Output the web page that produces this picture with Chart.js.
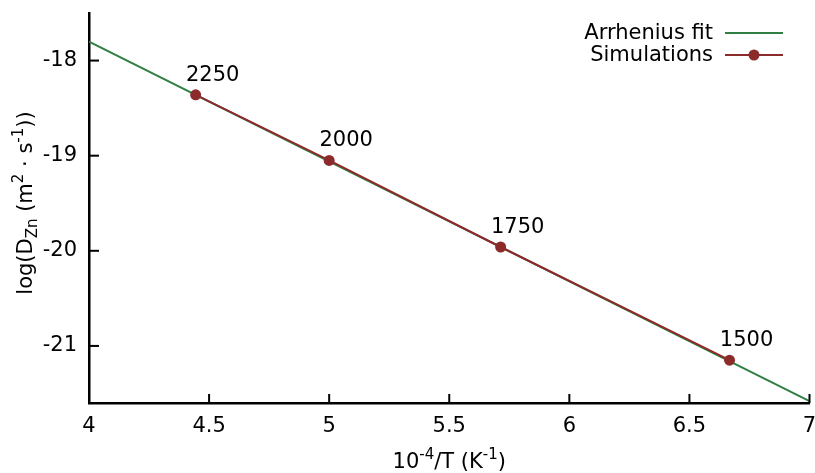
<!DOCTYPE html>
<html>
<head>
<meta charset="utf-8">
<script src="https://cdn.jsdelivr.net/npm/chart.js@4/dist/chart.umd.min.js"></script>
<style>
  html, body { margin: 0; padding: 0; background: #fff; }
  #wrap { width: 815px; height: 473px; }
</style>
</head>
<body>
<div id="wrap"><canvas id="myChart" width="815" height="473"></canvas></div>
<script>
// simulated temperatures (K) and their 10^4/T positions
const temperatures = ['2250', '2000', '1750', '1500'];
const invTemp = [4.444, 5.0, 5.714, 6.667];
const logDiff = [-18.36, -19.05, -19.96, -21.15];

// Arrhenius fit, end points across the axis range
const fitX = [4, 7];
const fitY = [-17.80, -21.58];

const xTickValues = [4, 4.5, 5, 5.5, 6, 6.5, 7];
const yTickValues = [-21, -20, -19, -18];

const FONT = 'DejaVu Sans';
const SIZE = 21;
const SMALL = 15;
const GREEN = '#2f8042';
const BROWN = '#8c2b2b';

// draws a run of text pieces with super/subscripts, starting at x
function drawRuns(ctx, runs, x, y) {
    runs.forEach(r => {
        const size = r.sup || r.sub ? SMALL : SIZE;
        ctx.font = size + 'px "' + FONT + '"';
        const dy = r.sup ? -9 : (r.sub ? 5 : 0);
        ctx.fillText(r.t, x, y + dy);
        x += ctx.measureText(r.t).width;
    });
}
function runsWidth(ctx, runs) {
    let w = 0;
    runs.forEach(r => {
        ctx.font = (r.sup || r.sub ? SMALL : SIZE) + 'px "' + FONT + '"';
        w += ctx.measureText(r.t).width;
    });
    return w;
}

const xTitle = [{ t: '10' }, { t: '-4', sup: true }, { t: '/T (K' }, { t: '-1', sup: true }, { t: ')' }];
const yTitle = [{ t: 'log(D' }, { t: 'Zn', sub: true }, { t: ' (m' }, { t: '2', sup: true },
                { t: ' · s' }, { t: '-1', sup: true }, { t: '))' }];

const decorations = {
    id: 'decorations',
    afterDraw(chart) {
        const ctx = chart.ctx;
        const area = chart.chartArea;
        const xs = chart.scales.x, ys = chart.scales.y;
        ctx.save();

        // inward tick marks
        ctx.strokeStyle = '#000';
        ctx.lineWidth = 2;
        xTickValues.forEach(v => {
            const px = xs.getPixelForValue(v);
            ctx.beginPath();
            ctx.moveTo(px, area.bottom);
            ctx.lineTo(px, area.bottom - 9);
            ctx.stroke();
        });
        yTickValues.forEach(v => {
            const py = ys.getPixelForValue(v);
            ctx.beginPath();
            ctx.moveTo(area.left, py);
            ctx.lineTo(area.left + 10, py);
            ctx.stroke();
        });

        // temperature labels above each simulation point
        ctx.fillStyle = '#000';
        ctx.font = SIZE + 'px "' + FONT + '"';
        ctx.textAlign = 'center';
        ctx.textBaseline = 'alphabetic';
        const meta = chart.getDatasetMeta(1);
        meta.data.forEach((pt, i) => {
            ctx.fillText(temperatures[i], pt.x + 17, pt.y - 14);
        });

        // axis titles
        ctx.textAlign = 'left';
        const cx = (area.left + area.right) / 2;
        drawRuns(ctx, xTitle, cx - runsWidth(ctx, xTitle) / 2, 468);

        ctx.save();
        ctx.translate(32, (area.top + area.bottom) / 2 - 5);
        ctx.rotate(-Math.PI / 2);
        drawRuns(ctx, yTitle, -runsWidth(ctx, yTitle) / 2, 0);
        ctx.restore();

        // legend
        ctx.font = SIZE + 'px "' + FONT + '"';
        ctx.textAlign = 'right';
        ctx.textBaseline = 'middle';
        const items = [{ label: 'Arrhenius fit', color: GREEN, y: 33, marker: false },
                       { label: 'Simulations', color: BROWN, y: 55, marker: true }];
        items.forEach(it => {
            ctx.fillStyle = '#000';
            ctx.fillText(it.label, 713, it.y + 1);
            ctx.strokeStyle = it.color;
            ctx.lineWidth = 2;
            ctx.beginPath();
            ctx.moveTo(725, it.y);
            ctx.lineTo(783, it.y);
            ctx.stroke();
            if (it.marker) {
                ctx.fillStyle = it.color;
                ctx.beginPath();
                ctx.arc(754, it.y, 5.5, 0, Math.PI * 2);
                ctx.fill();
            }
        });
        ctx.restore();
    }
};

new Chart(document.getElementById('myChart'), {
    type: 'scatter',
    data: {
        datasets: [
            {
                label: 'Arrhenius fit',
                data: fitX.map((x, i) => ({ x, y: fitY[i] })),
                showLine: true,
                borderColor: GREEN,
                borderWidth: 2,
                pointRadius: 0,
                tension: 0,
                order: 2
            },
            {
                label: 'Simulations',
                data: invTemp.map((x, i) => ({ x, y: logDiff[i] })),
                showLine: true,
                borderColor: BROWN,
                backgroundColor: BROWN,
                borderWidth: 2,
                pointRadius: 5.5,
                pointBorderWidth: 0,
                tension: 0,
                order: 1
            }
        ]
    },
    options: {
        responsive: false,
        animation: false,
        devicePixelRatio: 1,
        layout: { padding: { top: 13, right: 5, left: 0, bottom: 0 } },
        plugins: {
            legend: { display: false },
            tooltip: { enabled: false }
        },
        scales: {
            x: {
                type: 'linear',
                min: 4,
                max: 7,
                afterBuildTicks: s => { s.ticks = xTickValues.map(v => ({ value: v })); },
                afterFit: s => { s.height = 70; s.paddingLeft = 0; s.paddingRight = 0; },
                grid: { display: false, drawTicks: false, tickLength: 0 },
                border: { display: true, color: '#000', width: 2.5 },
                ticks: {
                    color: '#000',
                    font: { family: FONT, size: SIZE },
                    padding: 11,
                    maxRotation: 0,
                    callback: v => String(v)
                }
            },
            y: {
                type: 'linear',
                min: -21.6,
                max: -17.5,
                afterBuildTicks: s => { s.ticks = yTickValues.map(v => ({ value: v })); },
                afterFit: s => { s.width = 89; s.paddingTop = 0; s.paddingBottom = 0; },
                grid: { display: false, drawTicks: false, tickLength: 0 },
                border: { display: true, color: '#000', width: 2.5 },
                ticks: {
                    color: '#000',
                    font: { family: FONT, size: SIZE },
                    padding: 12,
                    callback: v => String(v)
                }
            }
        }
    },
    plugins: [decorations]
});
</script>
</body>
</html>
